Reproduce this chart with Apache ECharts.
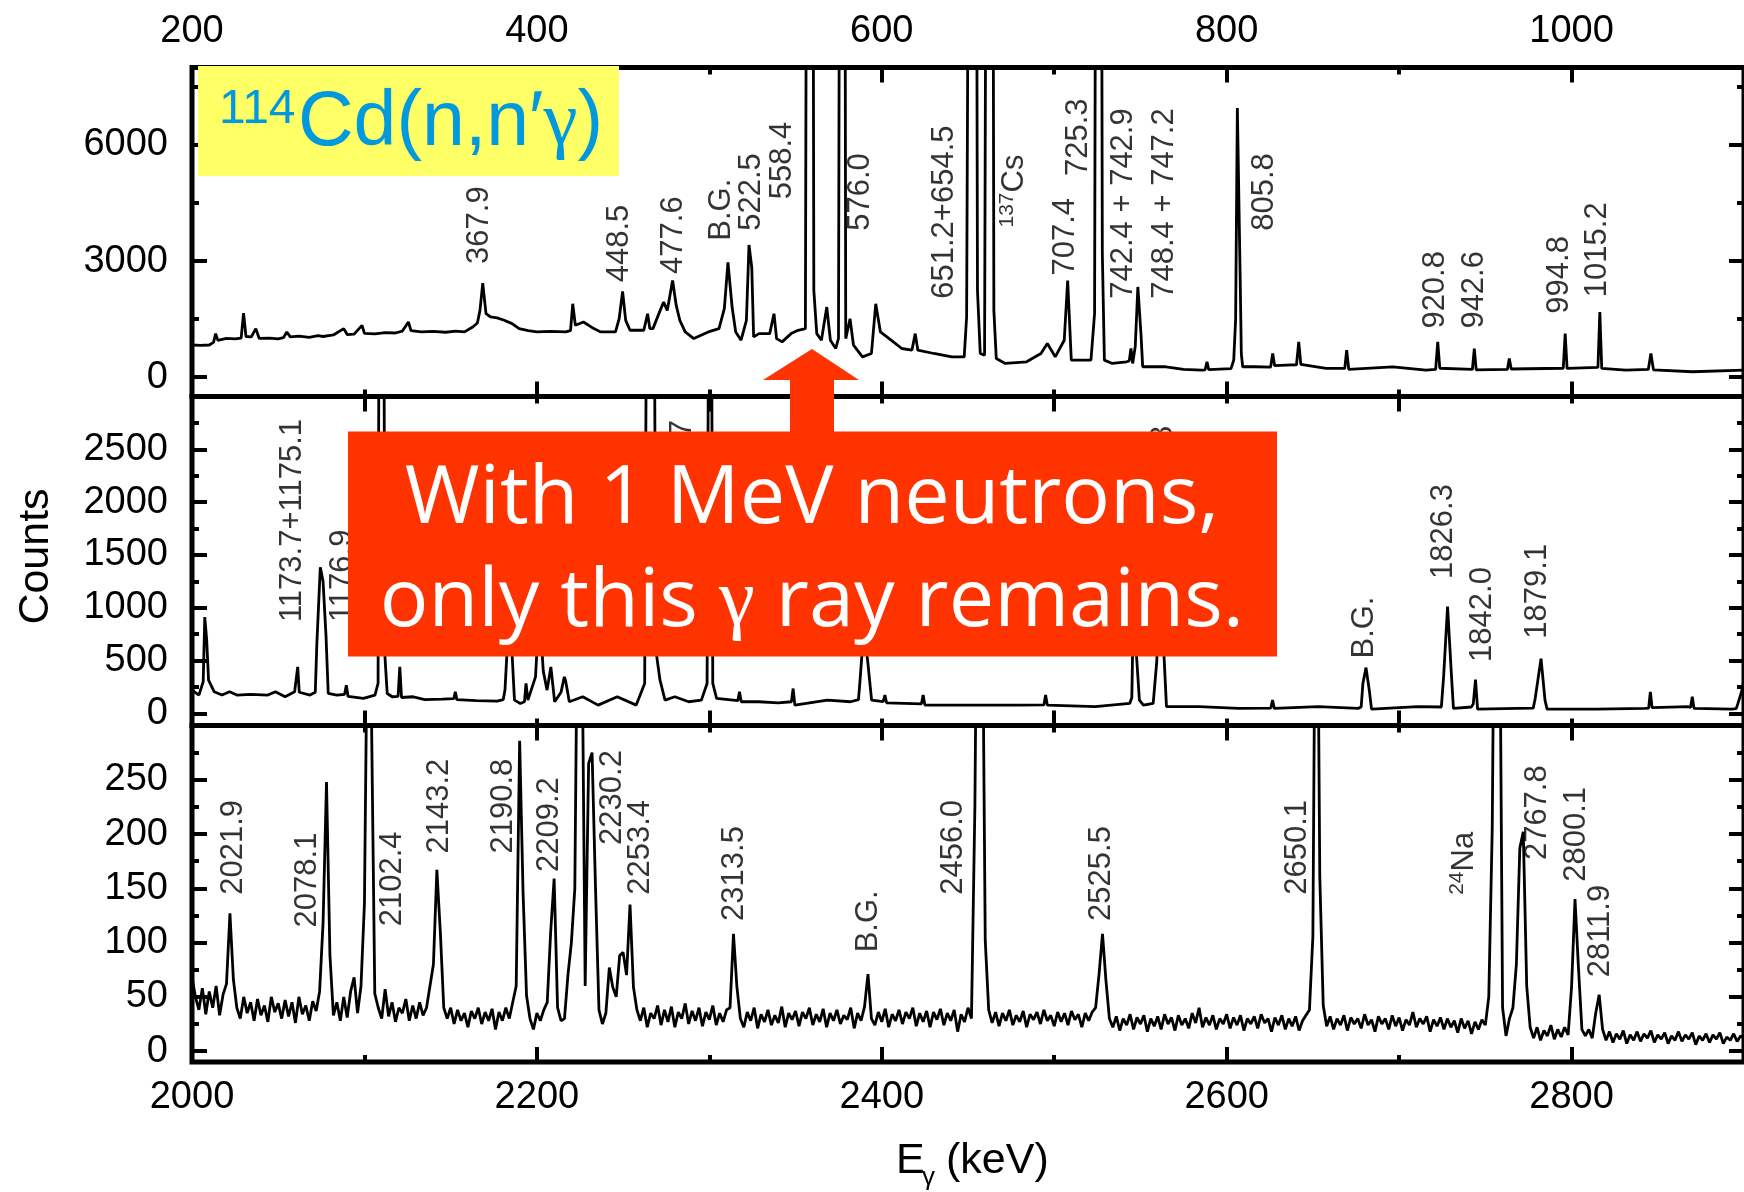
<!DOCTYPE html>
<html><head><meta charset="utf-8">
<script src="https://cdn.jsdelivr.net/npm/echarts@6/dist/echarts.min.js"></script>
<style>html,body{margin:0;padding:0;background:#fff}#chart{width:1744px;height:1192px}</style>
</head><body><div id="chart"></div>
<script>
// ---------- DATA (energy keV, counts) ----------
const topSpectrum = [
[200,830],[205,820],[210,830],[212.5,900],[213.7,1125],[215,950],[220,1000],[225,990],[228.5,1010],[229.9,1656],
[231.3,1050],[234.4,1040],[237,1253],[239,1000],[245,1010],[250,990],[253,1020],[255,1168],[257,1040],[262,1060],
[268,1030],[273,1070],[276,1050],[282,1090],[288,1254],[290,1100],[294,1110],[298.6,1339],[300,1130],[306,1120],
[312,1150],[318,1140],[322,1190],[325.5,1425],[327,1200],[333,1170],[340,1180],[347,1160],[353,1190],[358,1170],
[362.8,1296],[365.5,1400],[367,1725],[368.6,2427],[370.5,1639],[373,1560],[377,1530],[381,1470],[385.6,1382],[389.7,1253],
[395,1200],[400,1168],[408,1180],[416.6,1168],[419.5,1200],[420.8,1896],[422.3,1339],[427,1425],[433,1254],[437,1168],
[445.6,1168],[447.7,1510],[449.7,2213],[451.5,1468],[454,1211],[462,1211],[464.2,1639],[465.5,1254],[467.3,1254],[471.5,1725],
[473.5,1939],[475.6,1725],[478.7,2496],[480.8,1853],[482.9,1468],[486,1168],[491,996],[499.4,1168],[505.6,1254],[508.7,1768],
[510.8,2967],[513.2,1811],[515.3,1168],[518.4,954],[521.5,1468],[523,3413],[524.6,2839],[525.7,1039],[528.8,1125],[535,1125],
[537.5,1639],[539,996],[542.2,911],[547.4,1125],[551.5,1211],[555.7,1254],[557.3,30000],[559.4,30000],[560.6,2239],[562.3,1125],
[565,954],[568.1,1811],[570.2,954],[573.3,740],[574.9,1000],[576.4,30000],[578,30000],[579.1,996],[581.6,1510],[583.6,825],
[588.8,525],[594,611],[596.5,1896],[599.2,1168],[605.4,954],[611.6,740],[617.5,700],[619.4,1125],[620.9,697],[630.2,611],
[640.6,525],[647.8,525],[649.2,1553],[651.9,30000],[654,30000],[655.5,2239],[657.1,611],[659.6,568],[661.7,30000],[663.7,30000],
[665,1725],[666.4,482],[671.6,354],[684,397],[692.3,611],[696,868],[700.6,525],[705.8,954],[707.8,2496],[709.9,440],
[721.3,440],[723.4,1639],[725,30000],[726.5,30000],[727.9,3182],[729.1,440],[733.7,354],[742,397],[743.5,420],[744.5,740],
[745.5,354],[747,800],[748.5,2330],[750.3,1125],[751.3,268],[764.8,268],[775,200],[785.5,183],[787.5,190],[788.6,397],
[789.6,195],[802.5,220],[804.1,440],[805.2,1500],[806.2,6952],[807.8,2667],[808.5,600],[809.3,268],[816.5,268],[825.5,260],
[826.7,611],[827.8,300],[834.5,311],[840.5,320],[841.8,911],[843,330],[857.6,225],[868.5,230],[869.6,697],[870.8,200],
[896.3,268],[915.6,182],[921.2,200],[922.4,911],[923.6,230],[942.5,200],[943.6,740],[944.7,190],[962.8,200],[963.9,482],
[965,210],[995.2,230],[996.3,1125],[997.4,225],[1015.3,250],[1016.4,1682],[1017.5,225],[1031.5,182],[1044.5,200],[1046,611],
[1047.5,190],[1070.1,140],[1100,182]
];

const middleSpectrum = [
[1100,220],[1104,173],[1106.5,300],[1107.4,911],[1108.5,700],[1109.6,314],[1112.9,204],[1117.4,173],[1121.8,204],[1126,173],
[1134,180],[1144,173],[1148.4,204],[1154,157],[1159.5,204],[1160.4,220],[1161.3,440],[1162.2,200],[1168.4,173],[1171.5,200],
[1172.4,660],[1174.4,1383],[1176,1250],[1177.7,738],[1179,188],[1184,173],[1188.5,180],[1189.5,267],[1190.5,160],[1199.4,141],
[1206.1,173],[1207.9,283],[1209,8000],[1210.5,8000],[1211.9,534],[1213.2,188],[1216.1,157],[1219.5,160],[1220.5,440],[1221.5,150],
[1228.3,157],[1235,130],[1245,135],[1251.8,140],[1252.7,204],[1253.6,130],[1265,120],[1277,115],[1280.5,130],[1281.5,220],
[1283.7,900],[1285.5,600],[1287,125],[1290.4,94],[1292.8,110],[1293.7,283],[1294.8,125],[1299.2,345],[1301.4,1000],[1303.7,400],
[1305.9,220],[1308.1,440],[1310.3,110],[1314,200],[1315.9,345],[1316.6,314],[1318.8,110],[1326.6,157],[1335.5,78],[1346.6,157],
[1357.6,78],[1362.5,283],[1364.7,8000],[1367,8000],[1369,600],[1371.4,314],[1374.3,125],[1380,157],[1388,110],[1395.4,125],
[1398.7,283],[1400.5,8000],[1402,283],[1404.2,141],[1416.5,120],[1417.5,204],[1418.5,110],[1428.6,110],[1440,100],[1447.6,110],
[1448.6,235],[1449.6,78],[1468.5,125],[1481.9,110],[1486.5,130],[1487.4,314],[1489.6,800],[1491.8,500],[1494.1,125],[1500.8,110],
[1501.8,173],[1502.8,100],[1523,90],[1524,173],[1525,78],[1535.1,78],[1557.3,78],[1579.5,78],[1594,80],[1595,173],
[1596,78],[1623.8,63],[1643.8,94],[1645,150],[1646,1100],[1647.5,600],[1649.4,125],[1651.7,78],[1657.4,94],[1659.5,500],
[1661,1600],[1663.2,700],[1665.1,63],[1684,63],[1707,47],[1725.6,50],[1726.6,125],[1727.6,47],[1753.2,63],[1776.2,47],
[1778,60],[1779,283],[1780.8,433],[1782.7,220],[1784,40],[1810.8,63],[1824.5,60],[1825.8,345],[1828.1,1012],[1830.4,345],
[1831.5,47],[1841.9,60],[1843,90],[1844.3,320],[1845.5,40],[1868.5,47],[1877.8,50],[1878.9,141],[1882.3,518],[1884.6,125],
[1885.8,40],[1914.6,40],[1942.3,47],[1944.7,50],[1945.7,204],[1946.7,55],[1967.6,63],[1969,55],[1970,157],[1971,47],
[1993,40],[1995.5,45],[1996.5,94],[1998.5,200],[2000,314]
];

const bottomSpectrum = [
[2000,68],[2002,50],[2004,38],[2006,58],[2008,34],[2010,55],[2012,40],[2014,60],[2016,33],[2018,52],[2020,62],
[2022,127],[2024,66],[2026,40],[2028,30],[2030,50],[2032,35],[2034,45],[2036,28],[2038,48],[2040,33],
[2042,42],[2044,27],[2046,50],[2048,36],[2050,44],[2052,30],[2054,47],[2056,32],[2058,45],[2060,26],
[2062,50],[2064,34],[2066,42],[2068,28],[2070,46],[2072,37],[2074,55],[2076,118],[2078,248],[2080,88],
[2082,33],[2084,45],[2086,28],[2088,50],[2090,31],[2092,55],[2094,68],[2096,35],[2098,60],[2100,136],
[2102,450],[2104,320],[2106,53],[2108,40],[2110,30],[2112,57],[2114,32],[2116,45],[2118,27],[2120,40],
[2122,35],[2124,48],[2126,28],[2128,42],[2130,30],[2132,45],[2134,33],[2136,40],[2138,60],[2140,80],
[2142,167],[2144,110],[2146,40],[2148,30],[2150,40],[2152,25],[2154,38],[2156,28],[2158,35],[2160,22],
[2162,37],[2164,30],[2166,40],[2168,25],[2170,36],[2172,28],[2174,39],[2176,20],[2178,36],[2180,28],
[2182,40],[2184,30],[2186,45],[2188,60],[2190,286],[2192,145],[2194,51],[2196,30],[2198,20],[2200,35],
[2202,28],[2204,38],[2206,45],[2208,110],[2210,159],[2212,40],[2214,28],[2216,30],[2218,70],[2220,100],
[2222,150],[2224,500],[2226,420],[2228,60],[2230,265],[2232,275],[2234,150],[2236,38],[2238,25],[2240,35],
[2242,77],[2244,59],[2246,50],[2248,88],[2250,91],[2252,70],[2254,135],[2256,59],[2258,38],[2260,28],
[2262,40],[2264,22],[2266,35],[2268,30],[2270,42],[2272,24],[2274,38],[2276,27],[2278,41],[2280,22],
[2282,36],[2284,30],[2286,44],[2288,25],[2290,37],[2292,28],[2294,40],[2296,23],[2298,36],[2300,29],
[2302,42],[2304,24],[2306,35],[2308,27],[2310,38],[2312,40],[2314,108],[2316,59],[2318,30],[2320,22],
[2322,36],[2324,28],[2326,40],[2328,21],[2330,34],[2332,27],[2334,38],[2336,24],[2338,33],[2340,26],
[2342,41],[2344,22],[2346,35],[2348,29],[2350,37],[2352,23],[2354,36],[2356,30],[2358,40],[2360,24],
[2362,34],[2364,27],[2366,39],[2368,22],[2370,35],[2372,28],[2374,38],[2376,25],[2378,33],[2380,29],
[2382,40],[2384,21],[2386,35],[2388,28],[2390,41],[2392,71],[2394,30],[2396,24],[2398,36],[2400,27],
[2402,39],[2404,22],[2406,34],[2408,28],[2410,38],[2412,25],[2414,36],[2416,30],[2418,40],[2420,23],
[2422,35],[2424,27],[2426,37],[2428,22],[2430,36],[2432,29],[2434,39],[2436,24],[2438,35],[2440,28],
[2442,38],[2444,18],[2446,34],[2448,27],[2450,40],[2452,30],[2454,226],[2456,600],[2458,500],[2460,102],
[2462,38],[2464,26],[2466,36],[2468,23],[2470,35],[2472,28],[2474,38],[2476,24],[2478,33],[2480,27],
[2482,37],[2484,22],[2486,34],[2488,29],[2490,36],[2492,25],[2494,38],[2496,28],[2498,33],[2500,23],
[2502,36],[2504,27],[2506,35],[2508,24],[2510,37],[2512,29],[2514,34],[2516,22],[2518,35],[2520,28],
[2522,36],[2524,40],[2526,71],[2528,108],[2530,65],[2532,30],[2534,22],[2536,32],[2538,19],[2540,30],
[2542,24],[2544,34],[2546,20],[2548,31],[2550,25],[2552,33],[2554,18],[2556,30],[2558,23],[2560,32],
[2562,20],[2564,34],[2566,25],[2568,31],[2570,19],[2572,33],[2574,24],[2576,30],[2578,21],[2580,35],
[2582,26],[2584,40],[2586,22],[2588,31],[2590,24],[2592,33],[2594,20],[2596,30],[2598,25],[2600,34],
[2602,21],[2604,31],[2606,24],[2608,33],[2610,19],[2612,30],[2614,25],[2616,32],[2618,21],[2620,34],
[2622,26],[2624,30],[2626,18],[2628,31],[2630,24],[2632,33],[2634,20],[2636,30],[2638,23],[2640,32],
[2642,19],[2644,28],[2646,33],[2648,38],[2650,106],[2652,600],[2654,161],[2656,42],[2658,23],[2660,32],
[2662,20],[2664,30],[2666,24],[2668,33],[2670,19],[2672,31],[2674,25],[2676,30],[2678,21],[2680,34],
[2682,24],[2684,29],[2686,18],[2688,32],[2690,25],[2692,30],[2694,20],[2696,33],[2698,23],[2700,31],
[2702,19],[2704,29],[2706,24],[2708,36],[2710,22],[2712,30],[2714,25],[2716,32],[2718,18],[2720,29],
[2722,23],[2724,31],[2726,20],[2728,30],[2730,22],[2732,28],[2734,17],[2736,30],[2738,21],[2740,28],
[2742,16],[2744,27],[2746,20],[2748,29],[2750,24],[2752,50],[2754,205],[2756,600],[2758,500],[2760,40],
[2762,14],[2764,30],[2766,40],[2768,80],[2770,187],[2772,202],[2774,60],[2776,22],[2778,12],[2780,22],
[2782,10],[2784,19],[2786,14],[2788,24],[2790,11],[2792,20],[2794,13],[2796,22],[2798,15],[2800,59],
[2802,140],[2804,77],[2806,20],[2808,14],[2810,20],[2812,12],[2814,35],[2816,52],[2818,20],[2820,10],
[2822,18],[2824,8],[2826,16],[2828,11],[2830,19],[2832,7],[2834,15],[2836,10],[2838,18],[2840,9],
[2842,16],[2844,12],[2846,19],[2848,8],[2850,15],[2852,11],[2854,17],[2856,7],[2858,14],[2860,10],
[2862,18],[2864,9],[2866,15],[2868,11],[2870,17],[2872,6],[2874,14],[2876,10],[2878,16],[2880,8],
[2882,15],[2884,11],[2886,17],[2888,7],[2890,13],[2892,10],[2894,16],[2896,9],[2898,14],[2900,12]
];

// peak labels: [text, energy of label, counts where the (vertical) text starts]
const topPeakLabels = [
["367.9",366.9,2925],["448.5",448.1,2452],["477.6",479.1,2668],["B.G.",507,3524],["522.5",524.2,3782],
["558.4",542.2,4596],["576.0",587.7,3782],["651.2+654.5",636.4,2025],["{sup|137}{n|Cs}",676.8,3866],
["707.4",706.8,2625],["725.3",714.1,5195],["742.4 + 742.9",740.3,2025],["748.4 + 747.2",763.7,2025],
["805.8",821.8,3782],["920.8",921,1254],["942.6",943.8,1254],["994.8",993,1640],["1015.2",1015,2067]
];
const middlePeakLabels = [
["1173.7+1175.1",1158.4,864],["1176.9",1187.5,864],["1364.7",1384.3,1880],["1662.8",1663.3,1825],
["B.G.",1779.7,519],["1826.3",1825.8,1273],["1842.0",1848.2,487],["1879.1",1880,707]
];
const bottomPeakLabels = [
["2021.9",2024,144],["2078.1",2067.2,114],["2102.4",2116.1,115],["2143.2",2143.7,182],["2190.8",2180.4,182],
["2209.2",2207,165],["2230.2",2243.7,190],["2253.4",2260.3,144],["2313.5",2314.7,120],["B.G.",2392.4,91],
["2456.0",2441.8,144],["2525.5",2527.6,120],["2650.1",2640.9,144],["{sup|24}{n|Na}",2738,144],
["2767.8",2780.1,176],["2800.1",2802.8,156],["2811.9",2816.8,68]
];

// axis ranges and ticks
const xRanges = [[200,1100],[1100,2000],[2000,2900]];
const yRanges = [[-500,8000],[-115,3000],[-10,300]];
const xMajorTicks = [[200,400,600,800,1000],[1200,1400,1600,1800,2000],[2000,2200,2400,2600,2800]];
const xMinorTicks = [[300,500,700,900,1100],[1100,1300,1500,1700,1900],[2100,2300,2500,2700,2900]];
const topAxisLabels = [200,400,600,800,1000];
const bottomAxisLabels = [2000,2200,2400,2600,2800];
const yMajorTicks = [[0,3000,6000],[0,500,1000,1500,2000,2500],[0,50,100,150,200,250]];
const yMinorTicks = [[1500,4500,7500],[250,750,1250,1750,2250,2750],[25,75,125,175,225,275]];
const yAxisLabels = [[0,3000,6000],[0,500,1000,1500,2000,2500],[0,50,100,150,200,250]];

// ---------- CHART ----------
const FONT = 'Liberation Sans, Arial, sans-serif';
const grids = [
  {left:192, top:67.5, width:1555, height:329},
  {left:192, top:396.5, width:1555, height:329},
  {left:192, top:725.5, width:1555, height:336.5}
];
const MAJ = 15, MIN = 7, TW = 4;

function tickLabelStyle(margin, labels){
  return {show:true, customValues:labels, formatter:v=>String(v), fontSize:38, fontFamily:FONT,
          color:'#000', margin:margin, showMinLabel:true, showMaxLabel:true};
}
function makeX(gi, pos, ticks, len, labels, margin){
  return {type:'value', gridIndex:gi, position:pos, min:xRanges[gi][0], max:xRanges[gi][1],
    axisLine:{show:false,onZero:false}, splitLine:{show:false},
    axisTick:{show:true, inside:true, length:len, lineStyle:{color:'#000',width:TW}, customValues:ticks},
    axisLabel: labels ? tickLabelStyle(margin, labels) : {show:false}};
}
function makeY(gi, pos, ticks, len, labels, margin){
  return {type:'value', gridIndex:gi, position:pos, min:yRanges[gi][0], max:yRanges[gi][1],
    axisLine:{show:false,onZero:false}, splitLine:{show:false},
    axisTick:{show:true, inside:true, length:len, lineStyle:{color:'#000',width:TW}, customValues:ticks},
    axisLabel: labels ? tickLabelStyle(margin, labels) : {show:false}};
}
const xAxes = [], yAxes = [];
for (let g=0; g<3; g++){
  xAxes.push(makeX(g,'bottom',xMajorTicks[g],MAJ, g===2?bottomAxisLabels:null, 17));
  xAxes.push(makeX(g,'bottom',xMinorTicks[g],MIN,null));
  xAxes.push(makeX(g,'top',xMajorTicks[g],MAJ, g===0?topAxisLabels:null, 17));
  xAxes.push(makeX(g,'top',xMinorTicks[g],MIN,null));
  yAxes.push(makeY(g,'left',yMajorTicks[g],MAJ, yAxisLabels[g], 24));
  yAxes.push(makeY(g,'left',yMinorTicks[g],MIN,null));
  yAxes.push(makeY(g,'right',yMajorTicks[g],MAJ,null));
  yAxes.push(makeY(g,'right',yMinorTicks[g],MIN,null));
}
const spectra = [topSpectrum, middleSpectrum, bottomSpectrum];
const peakLabels = [topPeakLabels, middlePeakLabels, bottomPeakLabels];
const series = [];
for (let g=0; g<3; g++){
  series.push({type:'line', xAxisIndex:g*4, yAxisIndex:g*4, data:spectra[g], symbol:'none', showSymbol:false,
    lineStyle:{color:'#000', width:2.8}, clip:true, z:3, silent:true});
  series.push({type:'scatter', xAxisIndex:g*4, yAxisIndex:g*4, symbolSize:1, silent:true, z:4,
    itemStyle:{color:'rgba(0,0,0,0)'},
    data: peakLabels[g].map(l=>({name:l[0], value:[l[1], l[2]]})),
    label:{show:true, position:'inside', rotate:90, align:'left', verticalAlign:'middle',
      formatter:p=>p.name, fontSize:31, fontFamily:FONT, color:'#000', lineHeight:36,
      rich:{sup:{fontSize:21, fontFamily:FONT, color:'#000', lineHeight:21, verticalAlign:'top'},
            n:{fontSize:31, fontFamily:FONT, color:'#000', lineHeight:36}}}});
}

const RED = '#ff3300';
const option = {
  animation:false,
  backgroundColor:'#fff',
  grid: grids.map(r=>Object.assign({show:true, borderColor:'#000', borderWidth:5, backgroundColor:'transparent', containLabel:false}, r)),
  xAxis: xAxes, yAxis: yAxes, series: series,
  graphic: [
    {type:'rect', z:100, shape:{x:198, y:66, width:421, height:110}, style:{fill:'#ffff66'}},
    {type:'text', z:101, x:219, y:110, style:{text:'114', fontSize:48, fontFamily:FONT, fill:'#0099dd', align:'left', verticalAlign:'middle', textAlign:'left', textVerticalAlign:'middle'}},
    {type:'text', z:101, x:298, y:123.5, style:{text:'{a|Cd(n,n′}{g|γ}{a|)}', align:'left', verticalAlign:'middle', textAlign:'left', textVerticalAlign:'middle',
      rich:{a:{fontSize:77, fontFamily:FONT, fill:'#0099dd', color:'#0099dd'}, g:{fontSize:77, fontFamily:'Liberation Serif', fill:'#0099dd', color:'#0099dd'}}}},
    {type:'polygon', z:100, shape:{points:[[812,349],[859,380],[834,380],[834,432],[790,432],[790,380],[763,380]]}, style:{fill:RED}},
    {type:'rect', z:100, shape:{x:348, y:431.5, width:929, height:225}, style:{fill:RED}},
    {type:'text', z:101, x:812, y:500, style:{text:'With 1 MeV neutrons,', fontSize:81, fontFamily:'Open Sans', fill:'#fff', align:'center', verticalAlign:'middle', textAlign:'center', textVerticalAlign:'middle'}},
    {type:'text', z:101, x:812, y:603, style:{text:'{a|only this }{g|γ}{a| ray remains.}', align:'center', verticalAlign:'middle', textAlign:'center', textVerticalAlign:'middle',
      rich:{a:{fontSize:81, fontFamily:'Open Sans', fill:'#fff', color:'#fff'}, g:{fontSize:81, fontFamily:'Liberation Serif', fill:'#fff', color:'#fff'}}}},
    {type:'text', z:101, x:36.4, y:556.5, rotation:Math.PI/2, style:{text:'Counts', fontSize:43, fontFamily:FONT, fill:'#000', align:'center', verticalAlign:'middle', textAlign:'center', textVerticalAlign:'middle'}},
    {type:'text', z:101, x:896, y:1161.6, style:{text:'E', fontSize:43, fontFamily:FONT, fill:'#000', align:'left', verticalAlign:'middle', textAlign:'left', textVerticalAlign:'middle'}},
    {type:'text', z:101, x:922, y:1178, style:{text:'γ', fontSize:26, fontFamily:FONT, fill:'#000', align:'left', verticalAlign:'middle', textAlign:'left', textVerticalAlign:'middle'}},
    {type:'text', z:101, x:946, y:1161.6, style:{text:'(keV)', fontSize:43, fontFamily:FONT, fill:'#000', align:'left', verticalAlign:'middle', textAlign:'left', textVerticalAlign:'middle'}}
  ]
};
const chart = echarts.init(document.getElementById('chart'), null, {renderer:'canvas', width:1744, height:1192});
chart.setOption(option);
</script></body></html>
